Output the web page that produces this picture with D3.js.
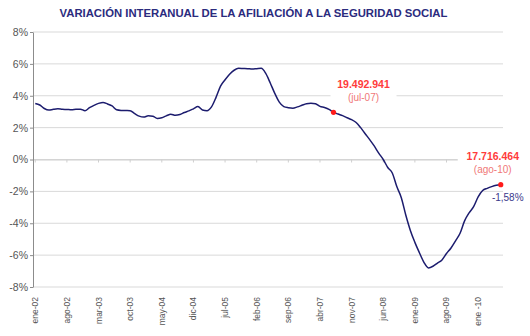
<!DOCTYPE html>
<html>
<head>
<meta charset="utf-8">
<script src="https://cdn.jsdelivr.net/npm/d3@7"></script>
<style>
  body { margin: 0; background: #fff; }
  svg { font-family: "Liberation Sans", Arial, sans-serif; }
</style>
</head>
<body>
<script>
// variación interanual (%), mensual, ene-02 .. ago-10
var values = [
  3.52, 3.42, 3.20, 3.10, 3.15, 3.18, 3.15, 3.14, 3.12, 3.15, 3.16, 3.06,
  3.25, 3.40, 3.52, 3.58, 3.48, 3.36, 3.12, 3.08, 3.07, 3.06, 2.88, 2.72,
  2.66, 2.74, 2.72, 2.58, 2.62, 2.74, 2.84, 2.77, 2.82, 2.95, 3.05, 3.18,
  3.32, 3.10, 3.06, 3.30, 3.90, 4.60, 5.00, 5.35, 5.60, 5.72, 5.71, 5.70,
  5.68, 5.70, 5.72, 5.40, 4.80, 4.15, 3.60, 3.32, 3.25, 3.22, 3.30, 3.40,
  3.50, 3.53, 3.50, 3.33, 3.26, 3.15, 2.96, 2.85, 2.75, 2.62, 2.50, 2.32,
  2.00, 1.62, 1.25, 0.85, 0.40, 0.00, -0.50, -0.85, -1.70, -2.40, -3.50, -4.45,
  -5.20, -5.85, -6.45, -6.80, -6.70, -6.50, -6.30, -5.90, -5.55, -5.10, -4.63, -3.85,
  -3.35, -2.96, -2.35, -1.95, -1.81, -1.70, -1.62, -1.58
];
var monthNames = ["ene", "feb", "mar", "abr", "may", "jun", "jul", "ago", "sep", "oct", "nov", "dic"];
var startYear = 2002;
var tickLabels = ["ene-02", "ago-02", "mar-03", "oct-03", "may-04", "dic-04", "jul-05", "feb-06",
                  "sep-06", "abr-07", "nov-07", "jun-08", "ene-09", "ago-09", "ene -10"];
var tickStep = 7;
var yTicks = [-8, -6, -4, -2, 0, 2, 4, 6, 8];
var notes = [
  { cat: "jul-07", big: "19.492.941", small: "(jul-07)" },
  { cat: "ago-10", big: "17.716.464", small: "(ago-10)", pct: "-1,58%" }
];

var categories = values.map((v, i) =>
  monthNames[i % 12] + "-" + String((startYear + Math.floor(i / 12)) % 100).padStart(2, "0"));
var data = values.map((v, i) => ({ cat: categories[i], value: v }));

var width = 530, height = 336;
var plot = { left: 33, right: 503, top: 32, bottom: 287 };

var svg = d3.select("body").append("svg")
  .attr("width", width)
  .attr("height", height);

var x = d3.scaleBand().domain(categories).range([plot.left, plot.right]);
var cx = c => x(c) + x.bandwidth() / 2;
var y = d3.scaleLinear().domain([-8, 8]).range([plot.bottom, plot.top]);

svg.append("text")
  .attr("x", 253.5).attr("y", 16.7)
  .attr("text-anchor", "middle")
  .attr("font-size", "11.3px").attr("font-weight", "bold")
  .attr("fill", "#2b2b7e")
  .text("VARIACIÓN INTERANUAL DE LA AFILIACIÓN A LA SEGURIDAD SOCIAL");

// grid
svg.append("g").selectAll("line").data(yTicks).join("line")
  .attr("x1", plot.left).attr("x2", plot.right)
  .attr("y1", d => y(d)).attr("y2", d => y(d))
  .attr("stroke", "#d9d9d9").attr("stroke-width", 1);

var tickCats = categories.filter((c, i) => i % tickStep == 0);

// category axis crossing at 0
var zeroAxis = svg.append("g")
  .attr("transform", `translate(0, ${y(0)})`)
  .call(d3.axisBottom(x).tickValues(tickCats).tickSize(3).tickSizeOuter(0).tickFormat(""));
zeroAxis.selectAll("line, path").attr("stroke", "#cfcfcf");

// labels low
var labelAxis = svg.append("g")
  .attr("transform", `translate(0, ${plot.bottom})`)
  .call(d3.axisBottom(x).tickValues(tickCats).tickSize(0).tickFormat((d, i) => tickLabels[i]));
labelAxis.select(".domain").remove();
labelAxis.selectAll("text")
  .attr("transform", "rotate(-90)")
  .attr("x", -10).attr("y", 0).attr("dy", "0.35em")
  .attr("text-anchor", "end")
  .attr("font-size", "8.5px")
  .attr("fill", "#555");

var yAxis = svg.append("g")
  .attr("transform", `translate(${plot.left}, 0)`)
  .call(d3.axisLeft(y).tickValues(yTicks).tickSize(3).tickSizeOuter(0).tickFormat(d => d + "%"));
yAxis.selectAll("line, path").attr("stroke", "#8c8c8c");
yAxis.selectAll("text").attr("font-size", "10.5px").attr("fill", "#555").attr("x", -5);

var line = d3.line()
  .x(d => cx(d.cat))
  .y(d => y(d.value))
  .curve(d3.curveMonotoneX);

svg.append("path")
  .attr("d", line(data))
  .attr("fill", "none")
  .attr("stroke", "#1c1c6e")
  .attr("stroke-width", 1.5);

// annotations
var noteBoxes = [
  { cat: "jul-07", dx: 30, dy: -24, w: 66 },
  { cat: "ago-10", dx: -8, dy: -25, w: 70 }
];
notes.forEach((n, k) => {
  var d = data.find(p => p.cat == n.cat);
  var px = cx(d.cat), py = y(d.value);
  var b = noteBoxes[k];
  var tx = px + b.dx, ty = py + b.dy;
  svg.append("rect")
    .attr("x", tx - b.w / 2).attr("y", ty - 12)
    .attr("width", b.w).attr("height", 28)
    .attr("fill", "#fff");
  svg.append("text").attr("x", tx).attr("y", ty)
    .attr("text-anchor", "middle").attr("font-size", "10.5px").attr("font-weight", "bold")
    .attr("fill", "#ff3b3b").text(n.big);
  svg.append("text").attr("x", tx).attr("y", ty + 13)
    .attr("text-anchor", "middle").attr("font-size", "10px")
    .attr("fill", "#f07878").text(n.small);
  if (n.pct) {
    svg.append("text").attr("x", px + 7).attr("y", py + 16)
      .attr("text-anchor", "middle").attr("font-size", "10px")
      .attr("fill", "#3a3a8c").text(n.pct);
  }
  svg.append("circle").attr("cx", px).attr("cy", py).attr("r", 2.6).attr("fill", "#ff1a1a");
});
</script>
</body>
</html>
